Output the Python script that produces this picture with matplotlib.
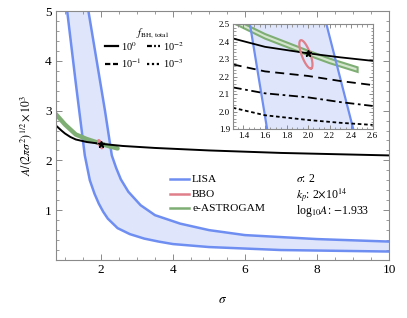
import numpy as np
import matplotlib.pyplot as plt
from matplotlib.ticker import MultipleLocator

plt.rcParams['font.family'] = ['Liberation Serif', 'DejaVu Serif']
plt.rcParams['mathtext.fontset'] = 'stix'

# LISA band edges (main plot)
lisa_lo_x = [1.06, 1.30, 1.55, 1.69, 1.82, 1.94, 2.06, 2.19, 2.46, 2.80, 3.20, 3.60, 4.00, 5.00, 7.00, 10.0]
lisa_lo_y = [5.00, 3.55, 2.10, 1.60, 1.33, 1.13, 0.97, 0.83, 0.64, 0.52, 0.43, 0.37, 0.32, 0.26, 0.20, 0.17]
lisa_up_x = [1.65, 2.11, 2.30, 2.42, 2.55, 2.76, 3.10, 3.50, 4.20, 5.00, 6.00, 8.00, 10.0]
lisa_up_y = [5.00, 3.00, 2.10, 1.85, 1.62, 1.37, 1.10, 0.90, 0.73, 0.60, 0.50, 0.42, 0.37]

# f_BH,total = 1 curve
f1_x = [0.75, 0.9, 1.0, 1.15, 1.3, 1.6, 2.0, 2.6, 3.5, 5.0, 7.0, 10.0]
f1_y = [2.70, 2.60, 2.54, 2.47, 2.42, 2.37, 2.333, 2.29, 2.25, 2.20, 2.15, 2.10]

# e-ASTROGAM band centre
eastro_x = [0.72, 1.0, 1.3, 1.6, 2.0, 2.2, 2.46]
eastro_y = [2.95, 2.72, 2.52, 2.43, 2.335, 2.29, 2.24]
eastro_w = 0.013

# BBO ellipse: centre, half-major and half-minor vectors
bbo_c = (1.98, 2.327)
bbo_a = (0.05, -0.08)
bbo_b = (0.035, 0.012)

best = (2.0, 2.333)

# inset curves
in_x = [1.3, 1.6, 2.0, 2.3, 2.6]
in_f1 = [2.418, 2.37, 2.333, 2.31, 2.29]
in_f01 = [2.27, 2.23, 2.204, 2.175, 2.152]
in_f001 = [2.139, 2.105, 2.082, 2.055, 2.033]
in_f0001 = [2.023, 1.98, 1.953, 1.937, 1.925]
in_lisa_l_x = [1.46, 1.62]
in_lisa_r_x = [2.17, 2.42]
in_lisa_y = [2.5, 1.9]

blue = '#6f8ef2'
fill = '#dfe6fb'
red = '#e07f8a'
green = '#7fae74'
frame = '#8a8a8a'

fig = plt.figure(figsize=(4.07, 3.18), dpi=100)
ax = fig.add_axes([0.1376, 0.1824, 0.8182, 0.783])


def style(a, size):
    for s in a.spines.values():
        s.set_color(frame)
        s.set_linewidth(0.8)
    a.tick_params(which='both', direction='in', top=True, right=True,
                  color=frame, labelsize=size, pad=3)
    a.tick_params(which='major', length=4, width=0.7)
    a.tick_params(which='minor', length=2.2, width=0.6)


ax.fill(np.r_[lisa_up_x, lisa_lo_x[::-1]], np.r_[lisa_up_y, lisa_lo_y[::-1]],
        color=fill, lw=0)
ax.plot(lisa_lo_x, lisa_lo_y, color=blue, lw=1.8)
ax.plot(lisa_up_x, lisa_up_y, color=blue, lw=1.8)
ex = np.array(eastro_x)
ey = np.array(eastro_y)
ax.plot(ex, ey, color=green, lw=3.2, solid_capstyle='round')
ax.plot(f1_x, f1_y, color='k', lw=1.4)
t = np.linspace(0, 2 * np.pi, 100)
ell_x = bbo_c[0] + np.cos(t) * bbo_a[0] + np.sin(t) * bbo_b[0]
ell_y = bbo_c[1] + np.cos(t) * bbo_a[1] + np.sin(t) * bbo_b[1]
ax.plot(ell_x, ell_y, color=red, lw=1.5)
ax.plot(*best, marker='*', color='k', ms=5)

ax.set_xlim(0.75, 10)
ax.set_ylim(0, 5)
ax.set_xticks([2, 4, 6, 8, 10])
ax.set_yticks([1, 2, 3, 4, 5])
ax.xaxis.set_minor_locator(MultipleLocator(0.5))
ax.yaxis.set_minor_locator(MultipleLocator(0.2))
style(ax, 9.5)
ax.set_xlabel(r'$\sigma$', fontsize=9.5, labelpad=13)
ax.set_ylabel(r'$A/(2\pi\sigma^2)^{1/2}\times10^3$', fontsize=8.5, labelpad=8)

# detector legend
rows = [0.437, 0.389, 0.345]
for yy, lab, c in zip(rows, ['LISA', 'BBO', 'e-ASTROGAM'], [blue, red, green]):
    fig.add_artist(plt.Line2D([0.418, 0.465], [yy, yy], color=c, lw=1.8))
    fig.text(0.472, yy, lab, fontsize=8.2, va='center')

fig.text(0.728, 0.437, r'$\sigma$: 2', fontsize=8.5, va='center')
fig.text(0.728, 0.385, r'$k_p$: 2$\times$10$^{14}$', fontsize=8.5, va='center')
fig.text(0.728, 0.335, r'log$_{10}$$A$: $-$1.933', fontsize=8.5, va='center')

# f_BH legend
fig.text(0.375, 0.897, r'$f_{\rm BH,\,total}$', fontsize=7.5, ha='center', va='center')
styles = [('-', r'10$^{0}$', 0.258, 0.855), ((0, (2.4, 1.2)), r'10$^{-1}$', 0.258, 0.80),
          ((0, (2.2, 1.0, 0.8, 1.0)), r'10$^{-2}$', 0.36, 0.855),
          ((0, (1.0, 1.2)), r'10$^{-3}$', 0.36, 0.80)]
for ls, lab, x0, yy in styles:
    fig.add_artist(plt.Line2D([x0, x0 + 0.033], [yy, yy], color='k', lw=1.6, ls=ls))
    fig.text(x0 + 0.04, yy, lab, fontsize=7.5, va='center')

# inset
ins = fig.add_axes([0.5717, 0.5934, 0.344, 0.3311])
ins.fill_betweenx(in_lisa_y, in_lisa_l_x, in_lisa_r_x, color=fill, lw=0)
ins.plot(in_lisa_l_x, in_lisa_y, color=blue, lw=1.6)
ins.plot(in_lisa_r_x, in_lisa_y, color=blue, lw=1.6)
band_x = np.r_[ex, ex[::-1]]
band_y = np.r_[ey + eastro_w, (ey - eastro_w)[::-1]]
ins.fill(band_x, band_y, facecolor='#d5e6cf', edgecolor=green, lw=1.5)
ins.plot(in_x, in_f1, color='k', lw=1.3)
ins.plot(in_x, in_f01, color='k', lw=1.3, ls=(0, (5, 3)))
ins.plot(in_x, in_f001, color='k', lw=1.3, ls=(0, (5, 2, 1.5, 2)))
ins.plot(in_x, in_f0001, color='k', lw=1.3, ls=(0, (2, 1.5)))
ins.plot(ell_x, ell_y, color=red, lw=1.6)
ins.plot(*best, marker='*', color='k', ms=5)
ins.set_xlim(1.3, 2.6)
ins.set_ylim(1.9, 2.5)
ins.set_xticks(np.arange(1.4, 2.61, 0.2))
ins.set_yticks(np.arange(1.9, 2.51, 0.1))
ins.xaxis.set_minor_locator(MultipleLocator(0.05))
ins.yaxis.set_minor_locator(MultipleLocator(0.02))
ins.xaxis.set_major_formatter(plt.FormatStrFormatter('%.1f'))
ins.yaxis.set_major_formatter(plt.FormatStrFormatter('%.1f'))
style(ins, 6.5)
ins.tick_params(which='major', length=3, pad=2)
ins.tick_params(which='minor', length=1.8)

fig.savefig('out.png', dpi=100)
